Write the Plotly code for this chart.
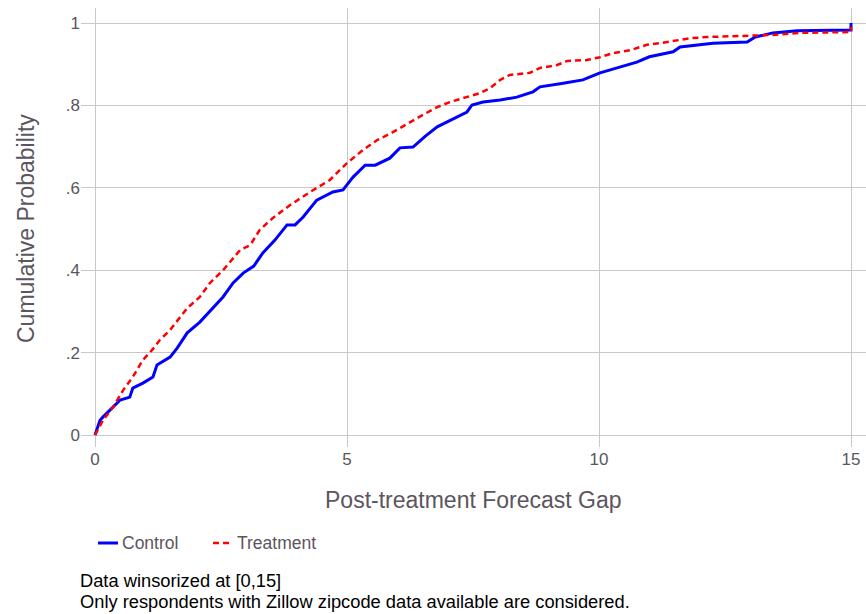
import plotly.graph_objects as go

control_x = [0, 0.10, 0.16, 0.30, 0.50, 0.69, 0.75, 0.95, 1.15, 1.23, 1.49, 1.63, 1.83, 2.08, 2.34, 2.54, 2.74, 2.94, 3.15, 3.33, 3.57, 3.81, 3.97, 4.13, 4.40, 4.72, 4.92, 5.12, 5.36, 5.56, 5.85, 6.05, 6.31, 6.55, 6.79, 7.04, 7.38, 7.48, 7.70, 8.04, 8.37, 8.69, 8.83, 9.29, 9.68, 10.02, 10.42, 10.75, 11.0, 11.47, 11.61, 12.26, 12.94, 13.10, 13.45, 13.93, 14.98, 15, 15]
control_y = [0, 0.036, 0.044, 0.061, 0.085, 0.092, 0.114, 0.126, 0.141, 0.17, 0.189, 0.211, 0.248, 0.274, 0.308, 0.335, 0.369, 0.393, 0.41, 0.442, 0.473, 0.510, 0.510, 0.529, 0.570, 0.590, 0.595, 0.626, 0.655, 0.655, 0.672, 0.697, 0.699, 0.725, 0.748, 0.763, 0.784, 0.801, 0.808, 0.813, 0.820, 0.833, 0.845, 0.854, 0.862, 0.879, 0.893, 0.905, 0.918, 0.930, 0.942, 0.951, 0.954, 0.966, 0.976, 0.981, 0.983, 0.983, 1.0]

treatment_x = [0, 0.16, 0.36, 0.56, 0.75, 0.95, 1.13, 1.29, 1.49, 1.69, 1.83, 2.08, 2.28, 2.54, 2.88, 3.08, 3.27, 3.53, 3.87, 4.27, 4.66, 5.00, 5.32, 5.60, 5.91, 6.39, 6.79, 7.04, 7.30, 7.64, 7.84, 8.04, 8.23, 8.63, 8.83, 9.17, 9.37, 9.76, 10.02, 10.28, 10.62, 10.95, 11.21, 11.81, 12.14, 12.80, 13.45, 13.99, 14.98, 15, 15]
treatment_y = [0, 0.036, 0.068, 0.109, 0.141, 0.182, 0.206, 0.231, 0.255, 0.287, 0.308, 0.335, 0.369, 0.400, 0.449, 0.461, 0.498, 0.527, 0.558, 0.590, 0.619, 0.660, 0.692, 0.716, 0.735, 0.769, 0.796, 0.808, 0.818, 0.830, 0.842, 0.862, 0.874, 0.879, 0.891, 0.898, 0.908, 0.910, 0.917, 0.927, 0.934, 0.947, 0.951, 0.963, 0.966, 0.968, 0.971, 0.976, 0.978, 0.978, 0.99]

x_ticks = [0, 5, 10, 15]
y_ticks = [0, 0.2, 0.4, 0.6, 0.8, 1]
y_tick_labels = ["0", ".2", ".4", ".6", ".8", "1"]
series_names = ["Control", "Treatment"]
notes = ["Data winsorized at [0,15]",
         "Only respondents with Zillow zipcode data available are considered."]

FONT = "Liberation Sans, Arial, sans-serif"
TXT = "#5b5560"
COLORS = ["#0000ff", "#ff0000"]
DASHES = ["solid", "6px,4px"]
WIDTHS = [3, 2.5]

L, T, W, H = 81, 8, 785, 439
def px(xp):
    return (xp - L) / W
def py(yp):
    return (T + H - yp) / H

fig = go.Figure()
fig.add_trace(go.Scatter(x=control_x, y=control_y, mode="lines", name=series_names[0],
                         line=dict(color=COLORS[0], width=WIDTHS[0])))
fig.add_trace(go.Scatter(x=treatment_x, y=treatment_y, mode="lines", name=series_names[1],
                         line=dict(color=COLORS[1], width=WIDTHS[1], dash=DASHES[1])))

fig.update_layout(
    width=866, height=614,
    margin=dict(l=L, r=0, t=T, b=614 - T - H),
    plot_bgcolor="white", paper_bgcolor="white",
    font=dict(family=FONT, color=TXT, size=17),
    showlegend=False,
)
fig.update_xaxes(range=[-14/50.4, 15 + 15/50.4], tickvals=x_ticks, ticktext=[str(v) for v in x_ticks],
                 showgrid=True, gridcolor="#c8c8c8", gridwidth=1, zeroline=False,
                 showline=False, ticks="", tickfont=dict(size=17, color=TXT))
fig.update_yaxes(range=[-12/412, 1 + 15/412], tickvals=y_ticks, ticktext=y_tick_labels,
                 showgrid=True, gridcolor="#c8c8c8", gridwidth=1, zeroline=False,
                 showline=False, ticks="", tickfont=dict(size=17, color=TXT))

# manual legend
leg_x = [98, 213]
for i, name in enumerate(series_names):
    fig.add_shape(type="line", xref="paper", yref="paper",
                  x0=px(leg_x[i]), x1=px(leg_x[i] + 20), y0=py(543), y1=py(543),
                  line=dict(color=COLORS[i], width=WIDTHS[i], dash=DASHES[i]))
    fig.add_annotation(text=name, xref="paper", yref="paper", x=px(leg_x[i] + 22), y=py(543),
                       xanchor="left", yanchor="middle", showarrow=False,
                       font=dict(size=17.5, color=TXT))

fig.add_annotation(text="Post-treatment Forecast Gap", xref="paper", yref="paper",
                   x=0.5, y=py(500), xanchor="center", yanchor="middle",
                   showarrow=False, font=dict(size=23, color=TXT))
fig.add_annotation(text="Cumulative Probability", xref="paper", yref="paper",
                   x=px(26), y=py(229), xanchor="center", yanchor="middle",
                   textangle=-90, showarrow=False, font=dict(size=23, color=TXT))
for j, note in enumerate(notes):
    fig.add_annotation(text=note, xref="paper", yref="paper", x=px(78), y=py(580 + 21 * j),
                       xanchor="left", yanchor="middle", align="left", showarrow=False,
                       font=dict(size=18.3, color="black"))

fig.write_html("out.html")
